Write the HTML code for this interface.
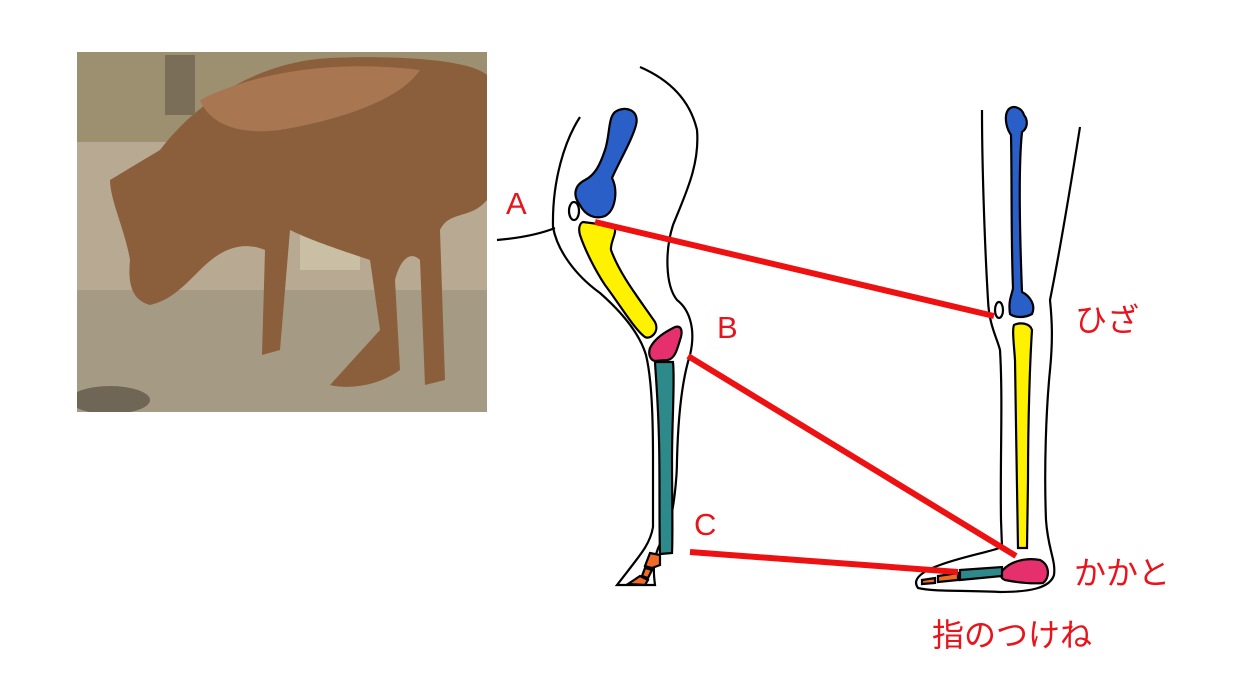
<!DOCTYPE html>
<html><head><meta charset="utf-8"><style>
html,body{margin:0;padding:0;background:#fff;}
svg{display:block;}
text{font-family:"Liberation Sans","Noto Sans CJK JP",sans-serif;fill:#e8141c;}
</style></head><body>
<svg width="1236" height="695" viewBox="0 0 1236 695" xmlns="http://www.w3.org/2000/svg">
<defs><clipPath id="ph"><rect x="77" y="52" width="410" height="360"/></clipPath></defs>
<g clip-path="url(#ph)">
<rect x="77" y="52" width="410" height="360" fill="#b8aa92"/>
<rect x="77" y="52" width="410" height="90" fill="#9c9070"/>
<rect x="77" y="290" width="410" height="122" fill="#a59a84"/>
<rect x="300" y="180" width="60" height="90" fill="#c9bfa4"/>
<path d="M160,150 C190,110 250,62 330,58 C400,55 470,60 487,75 L487,200 C470,220 450,210 440,230 L445,380 L425,385 L420,260 C410,250 400,260 395,280 L400,370 C380,385 350,390 330,385 L380,330 L370,260 C340,250 310,240 290,230 L280,350 L262,355 L265,250 C240,240 220,250 200,270 C180,290 170,300 150,305 C130,300 128,280 130,260 C125,230 110,200 110,180 Z" fill="#8c5f3c"/>
<path d="M200,100 C260,70 340,60 420,70 C400,100 340,120 280,130 C240,135 210,125 200,100Z" fill="#a87650"/>
<ellipse cx="110" cy="400" rx="40" ry="14" fill="#6f6656"/>
<rect x="165" y="55" width="30" height="60" fill="#7a6e58"/>
</g>
<g fill="none" stroke="#000" stroke-width="2.2">
<path d="M580,117 C565,140 552,180 553,227 C557,250 575,275 600,293 C625,315 640,335 646,355 C652,380 653,420 653,460 L653,527 C650,545 640,555 617,585 L655,585 C653,570 652,555 665,535 C675,515 677,470 677,460 C678,420 682,380 690,355 C696,330 690,310 677,300 C665,285 665,250 673,225 C685,195 700,165 697,130 C690,100 670,80 640,67"/>
<path d="M497,240 C520,238 540,234 555,228"/>
</g>
<g stroke="#000" stroke-width="2.2">
<path d="M615,112 C625,105 640,110 636,125 C632,140 620,160 612,178 C618,190 616,210 605,216 C595,220 585,215 580,205 C572,195 575,185 585,180 C595,175 600,165 605,150 C610,135 608,118 615,112Z" fill="#2b5fc8"/>
<ellipse cx="574" cy="211" rx="5" ry="9" fill="#fff"/>
<path d="M583,222 L614,226 C618,232 610,242 611,250 C620,275 640,300 655,322 C660,332 650,340 645,337 C635,330 620,305 605,285 C595,270 585,250 580,235 C578,228 580,223 583,222Z" fill="#fff200"/>
<path d="M650,348 C655,338 665,332 675,327 C682,325 683,332 680,340 C677,350 675,358 668,360 L655,361 C650,360 648,354 650,348Z" fill="#e6306e"/>
<path d="M655,362 L673,362 C675,380 672,420 672,460 C672,500 673,530 672,553 L660,554 C659,520 660,480 659,440 C658,400 656,380 655,362Z" fill="#2e8a8a"/>
<path d="M650,553 L660,555 L660,565 L652,568 L645,566Z M645,568 L652,570 L648,578 L642,576Z M640,576 L648,580 L645,585 L628,584Z" fill="#f06a28"/>
</g>
<g fill="none" stroke="#000" stroke-width="2.2">
<path d="M982,110 C982,170 985,250 988,300 C989,325 997,338 1000,350 C1003,400 1000,460 1001,520 L1002,547 C990,552 965,556 940,565 C920,572 912,580 918,588 C935,592 960,590 1000,592 C1030,592 1050,588 1054,575 C1056,560 1048,550 1046,520 C1044,470 1046,410 1050,370 C1053,340 1052,320 1050,300 C1058,260 1070,190 1080,127"/>
</g>
<g stroke="#000" stroke-width="2.2">
<path d="M1008,110 C1013,104 1022,108 1024,115 C1028,120 1028,128 1022,132 C1018,170 1020,240 1022,292 C1030,296 1036,305 1032,314 C1025,318 1015,318 1010,314 C1008,300 1012,295 1013,288 C1011,240 1012,180 1011,135 C1006,128 1004,116 1008,110Z" fill="#2b5fc8"/>
<ellipse cx="999" cy="310" rx="4" ry="8" fill="#fff"/>
<path d="M1014,325 C1020,322 1030,323 1032,330 C1030,360 1028,420 1028,480 L1027,548 L1018,548 C1017,500 1016,420 1015,360 C1014,345 1012,330 1014,325Z" fill="#fff200"/>
<path d="M1003,570 C1010,562 1025,557 1040,560 C1050,565 1050,578 1043,583 C1030,584 1015,582 1005,580 C1000,578 1000,574 1003,570Z" fill="#e6306e"/>
<path d="M960,570 L1002,567 L1002,576 L960,580Z" fill="#2e8a8a"/>
<path d="M938,576 L958,573 L958,580 L938,582Z M922,580 L935,578 L935,583 L922,584Z" fill="#f06a28"/>
</g>
<g stroke="#ee1111" stroke-width="6" fill="none">
<line x1="595" y1="222" x2="994" y2="316"/>
<line x1="688" y1="356" x2="1016" y2="556"/>
<line x1="690" y1="552" x2="958" y2="572"/>
</g>
<text x="506" y="214" font-size="31">A</text>
<text x="717" y="338" font-size="31">B</text>
<text x="694" y="535" font-size="31">C</text>
<text x="1075" y="331" font-size="32">ひざ</text>
<text x="1074" y="584" font-size="32">かかと</text>
<text x="932" y="646" font-size="32">指のつけね</text>
</svg>
</body></html>
